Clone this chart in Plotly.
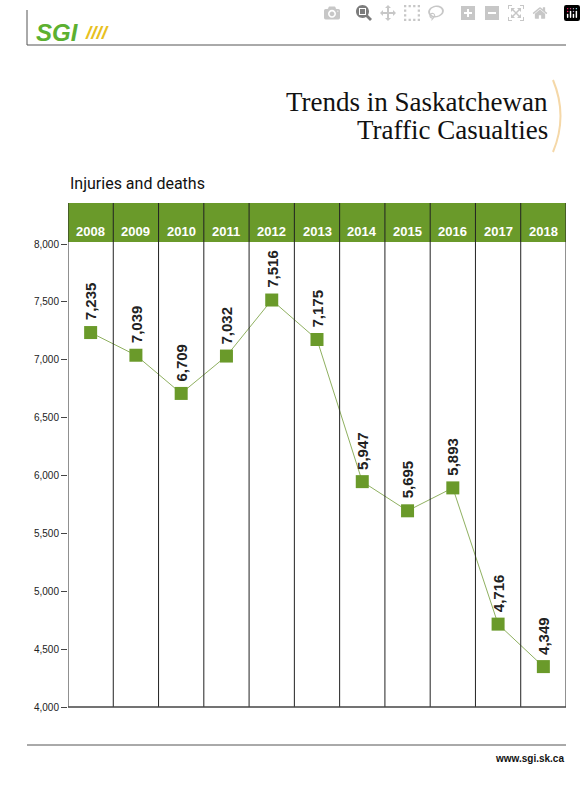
import plotly.graph_objects as go

years = ["2008","2009","2010","2011","2012","2013","2014","2015","2016","2017","2018"]
values = [7235,7039,6709,7032,7516,7175,5947,5695,5893,4716,4349]
yticks = [4000,4500,5000,5500,6000,6500,7000,7500,8000]

W,H = 586,785
L,R,T,B = 68,20,244,78
ph = H-T-B
green = "#6a9a2a"

fig = go.Figure()
xs = list(range(len(years)))
fig.add_trace(go.Scatter(x=xs, y=values, mode="lines+markers",
    line=dict(color="#8fb060", width=1),
    marker=dict(symbol="square", size=13, color=green), hoverinfo="skip"))

ann = []
for i,(y,v) in enumerate(zip(years,values)):
    ann.append(dict(x=i, y=v, xref="x", yref="y", text=f"<b>{v:,}</b>", textangle=-90,
        showarrow=False, yanchor="bottom", yshift=10, font=dict(size=15, color="#222", family="Liberation Sans")))
    ann.append(dict(x=i, y=1+22/ph, xref="x", yref="paper", text=f"<b>{y}</b>", showarrow=False,
        font=dict(size=13, color="white", family="Liberation Sans")))

pw = W-L-R
def axx(p): return (p-L)/pw
def axy(p): return 1+(T-p)/ph

shapes = [dict(type="rect", xref="paper", yref="paper", x0=0, x1=1, y0=1+2/ph, y1=1+41/ph,
               fillcolor=green, line=dict(width=0), layer="below")]
for i in range(len(years)+1):
    shapes.append(dict(type="line", xref="x", yref="paper", x0=i-0.5, x1=i-0.5, y0=0, y1=1+41/ph,
                       line=dict(color="#222", width=1)))
shapes.append(dict(type="line", xref="paper", yref="paper", x0=0, x1=1, y0=0, y1=0, line=dict(color="#444", width=1.5)))
shapes += [
    dict(type="line", xref="paper", yref="paper", x0=axx(27), x1=1, y0=axy(45), y1=axy(45), line=dict(color="#555", width=1)),
    dict(type="line", xref="paper", yref="paper", x0=axx(27), x1=axx(27), y0=axy(45), y1=axy(10), line=dict(color="#555", width=1)),
    dict(type="line", xref="paper", yref="paper", x0=axx(27), x1=1, y0=axy(745), y1=axy(745), line=dict(color="#555", width=1)),
]
ann += [
    dict(x=axx(34), y=axy(32), xref="paper", yref="paper", text="<b><i>SGI</i></b>", showarrow=False,
         xanchor="left", yanchor="middle", font=dict(size=24, color="#5cb030", family="Liberation Sans")),
    dict(x=axx(83), y=axy(32), xref="paper", yref="paper", text="<b><i>////</i></b>", showarrow=False,
         xanchor="left", yanchor="middle", font=dict(size=19, color="#e8c020", family="Liberation Sans")),
    dict(x=axx(550), y=axy(102), xref="paper", yref="paper", text="Trends in Saskatchewan",
         showarrow=False, xanchor="right", yanchor="middle",
         font=dict(size=27, color="#111", family="Liberation Serif")),
    dict(x=axx(550), y=axy(130), xref="paper", yref="paper", text="Traffic Casualties",
         showarrow=False, xanchor="right", yanchor="middle",
         font=dict(size=27, color="#111", family="Liberation Serif")),
    dict(x=axx(68), y=axy(184), xref="paper", yref="paper", text="Injuries and deaths", showarrow=False,
         xanchor="left", yanchor="middle", font=dict(size=16, color="#111", family="Roboto")),
    dict(x=1, y=axy(758), xref="paper", yref="paper", text="<b>www.sgi.sk.ca</b>", showarrow=False,
         xanchor="right", yanchor="middle", font=dict(size=10, color="#111", family="Liberation Sans")),
]
shapes.append(dict(type="path", xref="paper", yref="paper",
    path=f"M {axx(553)} {axy(80)} Q {axx(568)} {axy(116)} {axx(553)} {axy(152)}",
    line=dict(color="#f5d8a8", width=2)))

fig.update_layout(width=W, height=H, margin=dict(l=L,r=R,t=T,b=B),
    paper_bgcolor="white", plot_bgcolor="white", showlegend=False,
    xaxis=dict(range=[-0.5,len(years)-0.5], showticklabels=False, showgrid=False, zeroline=False, fixedrange=True),
    yaxis=dict(range=[4000,8000], tickvals=yticks, ticktext=[f"{t:,}" for t in yticks],
               ticks="outside", ticklen=6, tickcolor="#444", showgrid=False, zeroline=False,
               tickfont=dict(size=10, color="#222", family="Liberation Sans")),
    annotations=ann, shapes=shapes)
fig.write_html("out.html", post_script="document.body.style.margin='0';")
